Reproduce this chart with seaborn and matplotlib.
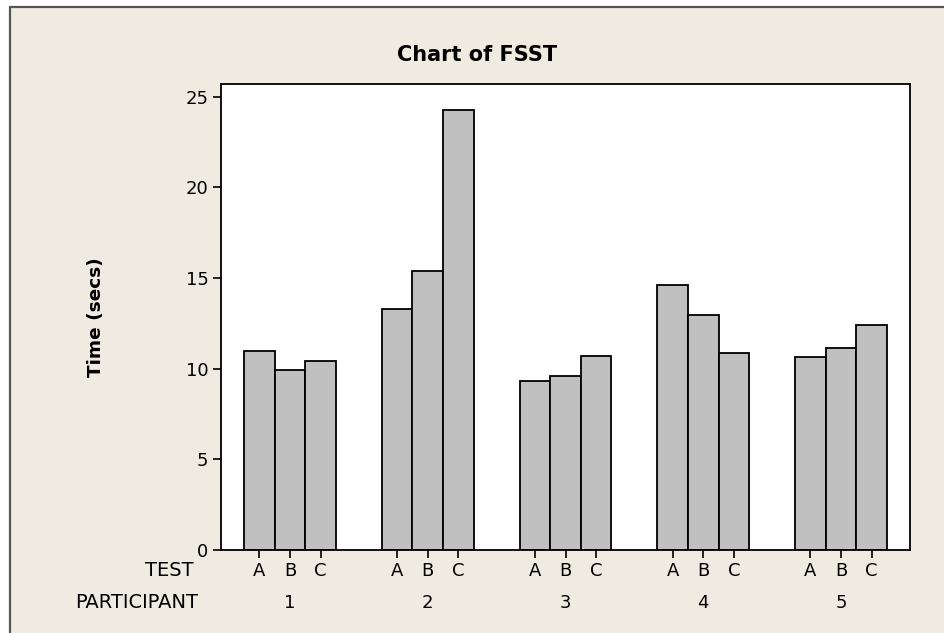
import matplotlib
matplotlib.use("Agg")
import matplotlib.pyplot as plt
from matplotlib.patches import Rectangle
from matplotlib.lines import Line2D
from matplotlib.transforms import blended_transform_factory
import seaborn as sns
import pandas as pd

# Fastest-sit-to-stand times per participant and test
participants = ["1", "2", "3", "4", "5"]
tests = ["A", "B", "C"]
time_a = [10.95, 13.30, 9.33, 14.61, 10.67]
time_b = [9.95, 15.40, 9.60, 12.97, 11.13]
time_c = [10.40, 24.28, 10.69, 10.89, 12.40]
y_ticks = [0, 5, 10, 15, 20, 25]

rows = []
for i, p in enumerate(participants):
    for t, vals in zip(tests, (time_a, time_b, time_c)):
        rows.append({"PARTICIPANT": p, "TEST": t, "Time": vals[i]})
df = pd.DataFrame(rows)

sns.set_style("white")
plt.rcParams["font.family"] = ["DejaVu Sans"]
plt.rcParams.update({"text.color": "black", "axes.labelcolor": "black",
                     "xtick.color": "black", "ytick.color": "black"})

BEIGE = "#EFEBE1"
BAR = "#C0C0C0"

fig = plt.figure(figsize=(9.44, 6.33), dpi=100)
fig.patch.set_facecolor("white")

# framed beige panel behind the chart
W, H = 944.0, 633.0
px, py = 10 / W, 1 - 7 / H
fig.patches.append(Rectangle((px, 0), 1 - px, py, transform=fig.transFigure,
                             facecolor=BEIGE, edgecolor="none", zorder=-2))
fig.lines.append(Line2D([px, 1], [py, py], transform=fig.transFigure,
                        color="#555555", lw=1.6, zorder=-1))
fig.lines.append(Line2D([px, px], [0, py], transform=fig.transFigure,
                        color="#555555", lw=1.6, zorder=-1))

ax = fig.add_axes([221 / W, 1 - 550 / H, (910 - 221) / W, (550 - 84) / H])
ax.set_facecolor("white")

sns.barplot(data=df, x="PARTICIPANT", y="Time", hue="TEST",
            order=participants, hue_order=tests,
            palette=[BAR] * len(tests), width=2 / 3, dodge=True,
            edgecolor="black", linewidth=1.3, saturation=1,
            errorbar=None, legend=False, ax=ax)

ax.set_xlim(-0.5, len(participants) - 0.5)
ax.set_ylim(0, 25.7)
ax.set_yticks(y_ticks)
ax.set_yticklabels([str(v) for v in y_ticks])

# tick marks under each bar, labelled by test
centers = sorted(p.get_x() + p.get_width() / 2 for p in ax.patches)
ax.set_xticks(centers)
ax.set_xticklabels(tests * len(participants))
ax.set_xlabel("")
ax.set_ylabel("Time (secs)", fontsize=13.3, fontweight="bold", labelpad=58)

ax.tick_params(axis="both", which="major", direction="out", length=6,
               width=1.2, color="black", labelsize=13, pad=3,
               bottom=True, left=True)
for s in ax.spines.values():
    s.set_visible(True)
    s.set_color("black")
    s.set_linewidth(1.3)

# participant row beneath the test labels
trans = blended_transform_factory(ax.transData, ax.transAxes)
for i, p in enumerate(participants):
    ax.annotate(p, xy=(i, 0), xycoords=trans, xytext=(0, -53),
                textcoords="offset pixels", ha="center", va="center",
                fontsize=13)

ax.annotate("TEST", xy=(0, 0), xycoords="axes fraction", xytext=(-27, -21),
            textcoords="offset pixels", ha="right", va="center", fontsize=14)
ax.annotate("PARTICIPANT", xy=(0, 0), xycoords="axes fraction",
            xytext=(-23, -53), textcoords="offset pixels", ha="right",
            va="center", fontsize=14)

fig.text(477 / W, 1 - 55 / H, "Chart of FSST", ha="center", va="center",
         fontsize=15, fontweight="bold")

fig.savefig("out.png", dpi=100, facecolor=fig.get_facecolor())
